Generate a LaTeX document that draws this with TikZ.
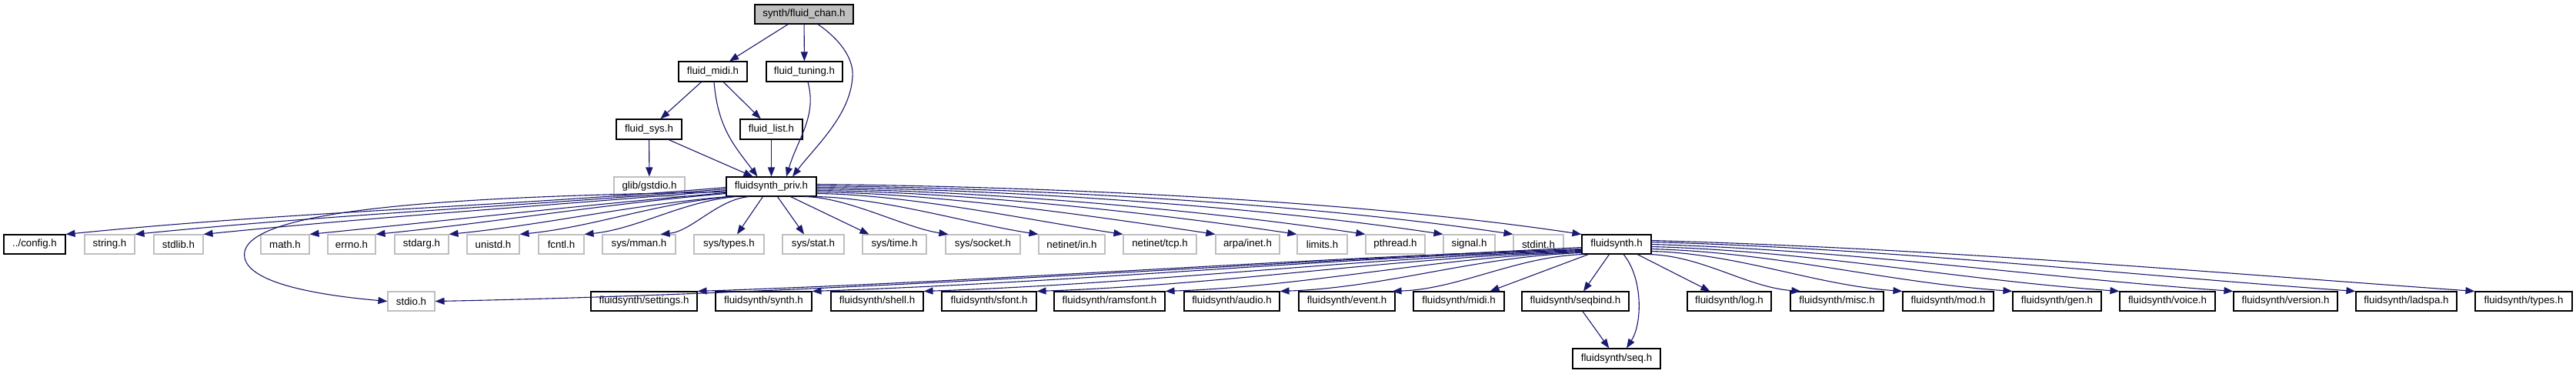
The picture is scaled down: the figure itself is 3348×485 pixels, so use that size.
\documentclass[tikz,border=0pt]{standalone}
\usepackage{fontspec}
\setmainfont{Liberation Sans}
\usetikzlibrary{arrows.meta,calc}
\definecolor{edgeblue}{HTML}{191970}
\definecolor{sysgray}{HTML}{BFBFBF}
\definecolor{rootgray}{HTML}{BFBFBF}
\tikzset{
  hdr/.style={draw=black,line width=1.1pt,inner sep=0pt,minimum height=25,font=\fontsize{13.3}{15}\selectfont},
  syshdr/.style={hdr,draw=sysgray},
  roothdr/.style={hdr,fill=rootgray},
  edge/.style={draw=edgeblue,line width=1.1pt,-{Triangle[length=12pt,width=9pt]}}
}
\newcommand\bx[7]{\node[#1,minimum width={#4-#3},minimum height={#6-#5}] (#2) at ({(#3+#4)/2},{(#5+#6)/2}) {#7};}
\newcommand\eL[3]{\draw[edge] (#1) .. controls +({-0.35*#3},{0.03*#3}) and +({0.35*#3},{-0.035*#3}) .. (#2);}
\newcommand\eR[3]{\draw[edge] (#1) .. controls +({0.3*#3},{0.003*#3}) and +({-0.3*#3},{-0.045*#3}) .. (#2);}
\newcommand\eLL[3]{\draw[edge] (#1) .. controls +({-0.35*#3},{0.012*#3}) and +({0.35*#3},{-0.012*#3}) .. (#2);}
\newcommand\eRR[3]{\draw[edge] (#1) .. controls +({0.35*#3},{0.01*#3}) and +({-0.35*#3},{-0.025*#3}) .. (#2);}
\begin{document}
\begin{tikzpicture}[x=1pt,y=-1pt]
\useasboundingbox[fill=white] (0,0) rectangle (3348,485);
% nodes
\bx{roothdr}{chan}{981}{1109}{6}{31}{synth/fluid\_chan.h}
\bx{hdr}{midi}{882}{971}{80}{106}{fluid\_midi.h}
\bx{hdr}{tuning}{996}{1095}{80}{106}{fluid\_tuning.h}
\bx{hdr}{sys}{801}{886}{155}{181}{fluid\_sys.h}
\bx{hdr}{list}{962}{1043}{155}{181}{fluid\_list.h}
\bx{syshdr}{gstdio}{798}{890}{230}{255}{glib/gstdio.h}
\bx{hdr}{priv}{944}{1061}{230}{255}{fluidsynth\_priv.h}
% row 4
\bx{hdr}{config}{5}{85}{305}{330}{../config.h}
\bx{syshdr}{string}{110}{175}{305}{330}{string.h}
\bx{syshdr}{stdlib}{200}{264}{305}{330}{stdlib.h}
\bx{syshdr}{math}{339}{402}{305}{330}{math.h}
\bx{syshdr}{errno}{426}{488}{305}{330}{errno.h}
\bx{syshdr}{stdarg}{513}{583}{305}{330}{stdarg.h}
\bx{syshdr}{unistd}{607}{675}{305}{330}{unistd.h}
\bx{syshdr}{fcntl}{700}{759}{305}{330}{fcntl.h}
\bx{syshdr}{mman}{783}{878}{305}{330}{sys/mman.h}
\bx{syshdr}{stypes}{902}{993}{305}{330}{sys/types.h}
\bx{syshdr}{stat}{1017}{1097}{305}{330}{sys/stat.h}
\bx{syshdr}{stime}{1121}{1204}{305}{330}{sys/time.h}
\bx{syshdr}{socket}{1229}{1326}{305}{330}{sys/socket.h}
\bx{syshdr}{netin}{1350}{1436}{305}{330}{netinet/in.h}
\bx{syshdr}{tcp}{1460}{1555}{305}{330}{netinet/tcp.h}
\bx{syshdr}{inet}{1580}{1663}{305}{330}{arpa/inet.h}
\bx{syshdr}{limits}{1686}{1751}{305}{330}{limits.h}
\bx{syshdr}{pthread}{1775}{1852}{305}{330}{pthread.h}
\bx{syshdr}{signal}{1876}{1943}{305}{330}{signal.h}
\bx{syshdr}{stdint}{1967}{2032}{305}{330}{stdint.h}
\bx{hdr}{fs}{2056}{2146}{305}{330}{fluidsynth.h}
% row 5
\bx{syshdr}{stdio}{504}{565}{379}{404}{stdio.h}
\bx{hdr}{settings}{768}{906}{379}{404}{fluidsynth/settings.h}
\bx{hdr}{synth}{930}{1055}{379}{404}{fluidsynth/synth.h}
\bx{hdr}{shell}{1080}{1200}{379}{404}{fluidsynth/shell.h}
\bx{hdr}{sfont}{1224}{1347}{379}{404}{fluidsynth/sfont.h}
\bx{hdr}{ramsfont}{1370}{1514}{379}{404}{fluidsynth/ramsfont.h}
\bx{hdr}{audio}{1539}{1663}{379}{404}{fluidsynth/audio.h}
\bx{hdr}{event}{1688}{1813}{379}{404}{fluidsynth/event.h}
\bx{hdr}{fmidi}{1837}{1955}{379}{404}{fluidsynth/midi.h}
\bx{hdr}{seqbind}{1978}{2117}{379}{404}{fluidsynth/seqbind.h}
\bx{hdr}{log}{2193}{2302}{379}{404}{fluidsynth/log.h}
\bx{hdr}{misc}{2327}{2448}{379}{404}{fluidsynth/misc.h}
\bx{hdr}{mod}{2473}{2591}{379}{404}{fluidsynth/mod.h}
\bx{hdr}{gen}{2616}{2731}{379}{404}{fluidsynth/gen.h}
\bx{hdr}{voice}{2755}{2879}{379}{404}{fluidsynth/voice.h}
\bx{hdr}{version}{2903}{3038}{379}{404}{fluidsynth/version.h}
\bx{hdr}{ladspa}{3062}{3193}{379}{404}{fluidsynth/ladspa.h}
\bx{hdr}{ftypes}{3217}{3343}{379}{404}{fluidsynth/types.h}
\bx{hdr}{seq}{2044}{2158}{453}{479}{fluidsynth/seq.h}
% top edges
\draw[edge] (chan) -- (midi);
\draw[edge] (chan) -- (tuning);
\draw[edge] ($(chan.south)+(18,0)$) .. controls (1090,50) and (1110,75) .. (1108,100) .. controls (1105,150) and (1060,190) .. ($(priv.north)+(27.5,0)$);
\draw[edge] (midi) -- (sys);
\draw[edge] (midi) -- (list);
\draw[edge] ($(midi.south)+(1.5,0)$) .. controls +(5,60) and +(-30,-40) .. ($(priv.north)+(-18,0)$);
\draw[edge] ($(tuning.south)+(4.5,0)$) .. controls +(12,45) and +(15,-50) .. ($(priv.north)+(19.5,0)$);
\draw[edge] (sys) -- (gstdio);
\draw[edge] ($(sys.south)+(25.5,0)$) -- ($(priv.north)+(-24,0)$);
\draw[edge] (list) -- (priv);
% priv -> row 4 (left)
\eL{$(priv.west)+(0,1)$}{config.north east}{858}
\eL{$(priv.west)+(0,3)$}{string.north east}{769}
\eL{$(priv.west)+(0,5)$}{stdlib.north east}{680}
\draw[edge] ($(priv.west)+(0,7)$) .. controls (600,255) and (330,270) .. (318,327) .. controls (310,370) and (430,385) .. (stdio.west);
\eL{$(priv.west)+(0,8)$}{math.north east}{542}
\eL{$(priv.west)+(0,9)$}{errno.north east}{456}
\eL{$(priv.south west)+(2,0)$}{stdarg.north east}{363}
\eL{$(priv.south west)+(6,0)$}{unistd.north east}{275}
\eL{$(priv.south west)+(13,0)$}{fcntl.north east}{198}
\eL{$(priv.south west)+(30,0)$}{$(mman.north east)+(-20,0)$}{116}
\draw[edge] ($(priv.south west)+(48,0)$) -- ($(stypes.north)+(10.5,0)$);
\draw[edge] ($(priv.south west)+(67,0)$) -- ($(stat.north)+(-12,0)$);
\draw[edge] ($(priv.south west)+(84,0)$) -- ($(stime.north west)+(9,0)$);
% priv -> row 4 (right)
\eR{$(priv.south west)+(102,0)$}{$(socket.north west)+(4,0)$}{187}
\eR{$(priv.south east)+(-3,0)$}{netin.north west}{292}
\eR{$(priv.east)+(0,9)$}{tcp.north west}{399}
\eR{$(priv.east)+(0,7)$}{inet.north west}{519}
\eR{$(priv.east)+(0,5)$}{limits.north west}{625}
\eR{$(priv.east)+(0,3)$}{pthread.north west}{714}
\eR{$(priv.east)+(0,1)$}{signal.north west}{815}
\eR{$(priv.east)+(0,-1)$}{stdint.north west}{906}
\eR{$(priv.east)+(0,-3)$}{fs.north west}{995}
% fluidsynth.h -> row 5
\draw[edge] ($(fs.west)+(0,4)$) .. controls +(-500,25) and +(500,-10) .. (stdio.east);
\eLL{$(fs.west)+(0,6)$}{settings.north east}{1150}
\eLL{$(fs.west)+(0,7)$}{synth.north east}{1001}
\eLL{$(fs.west)+(0,8)$}{shell.north east}{856}
\eLL{$(fs.west)+(0,9)$}{sfont.north east}{709}
\eLL{$(fs.west)+(0,10)$}{ramsfont.north east}{542}
\eLL{$(fs.west)+(0,11)$}{audio.north east}{393}
\eLL{$(fs.south west)+(2,0)$}{$(event.north east)+(-4,0)$}{249}
\draw[edge] ($(fs.south west)+(9,0)$) -- ($(fmidi.north east)+(-19,0)$);
\draw[edge] ($(fs.south west)+(36,0)$) -- ($(seqbind.north)+(10.5,0)$);
\draw[edge] ($(fs.south)+(9,0)$) .. controls +(25,30) and +(21,-33) .. ($(seq.north)+(13,0)$);
\draw[edge] (seqbind) -- (seq);
\draw[edge] ($(fs.south)+(27,0)$) -- ($(log.north west)+(30,0)$);
\eRR{$(fs.south east)+(-3,0)$}{$(misc.north west)+(14,0)$}{198}
\eRR{$(fs.east)+(0,9)$}{mod.north west}{327}
\eRR{$(fs.east)+(0,6)$}{gen.north west}{470}
\eRR{$(fs.east)+(0,3)$}{voice.north west}{609}
\eRR{$(fs.east)+(0,0)$}{version.north west}{757}
\eRR{$(fs.east)+(0,-3)$}{ladspa.north west}{916}
\eRR{$(fs.east)+(0,-5)$}{ftypes.north west}{1071}
\end{tikzpicture}
\end{document}
